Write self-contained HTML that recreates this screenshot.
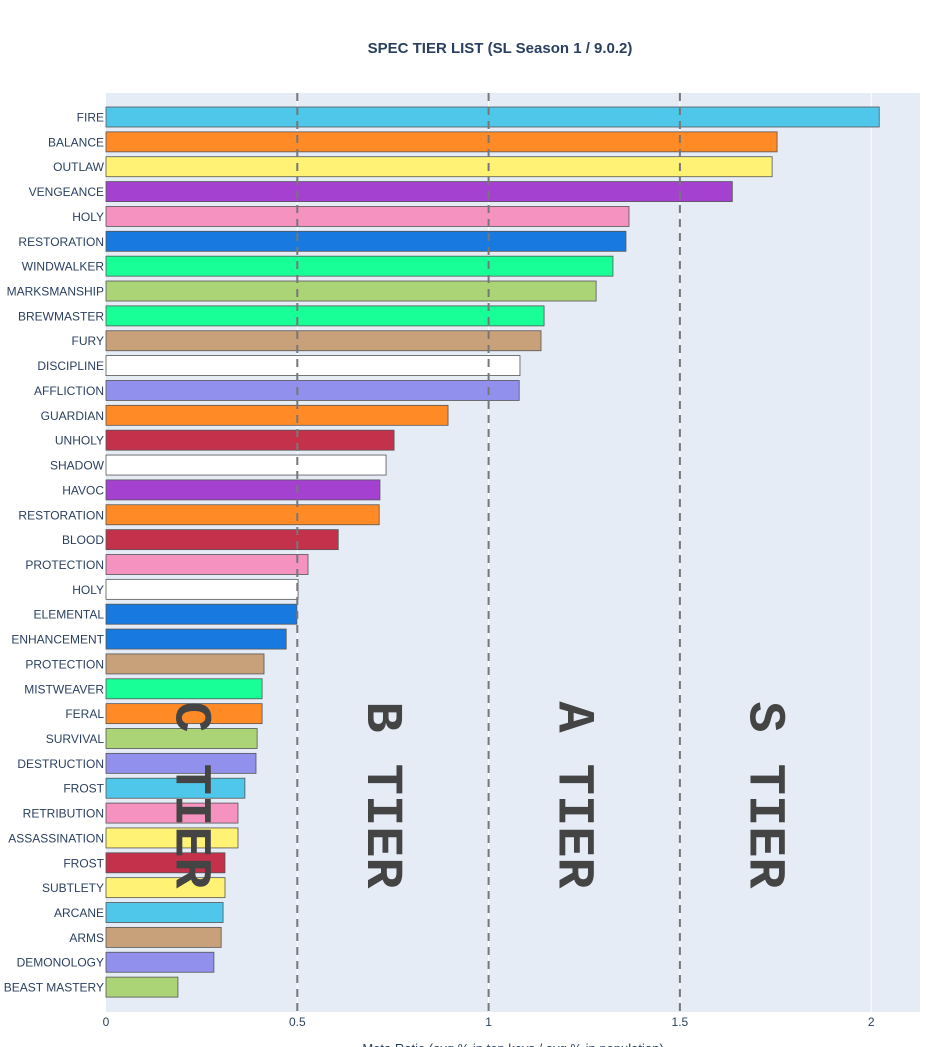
<!DOCTYPE html>
<html><head><meta charset="utf-8"><style>
body{margin:0;background:#fff;}
svg{display:block;font-family:"Liberation Sans",sans-serif;}
</style></head><body>
<svg id="chart" width="926" height="1047">
<text x="500" y="53" text-anchor="middle" font-size="15" font-weight="bold" fill="#2a3f5f">SPEC TIER LIST (SL Season 1 / 9.0.2)</text>
<rect x="106" y="93" width="814" height="919" fill="#e5ecf6"/>
<g id="grid"></g><g id="bars"></g><g id="tiers"></g><g id="labels"></g>
<text x="513" y="1053" text-anchor="middle" font-size="13" fill="#2a3f5f">Meta Ratio (avg % in top keys / avg % in population)</text>
</svg>
<script>
const specs=["FIRE","BALANCE","OUTLAW","VENGEANCE","HOLY","RESTORATION","WINDWALKER","MARKSMANSHIP","BREWMASTER","FURY","DISCIPLINE","AFFLICTION","GUARDIAN","UNHOLY","SHADOW","HAVOC","RESTORATION","BLOOD","PROTECTION","HOLY","ELEMENTAL","ENHANCEMENT","PROTECTION","MISTWEAVER","FERAL","SURVIVAL","DESTRUCTION","FROST","RETRIBUTION","ASSASSINATION","FROST","SUBTLETY","ARCANE","ARMS","DEMONOLOGY","BEAST MASTERY"];
const values=[2.021,1.754,1.741,1.637,1.367,1.359,1.325,1.281,1.145,1.137,1.082,1.080,0.894,0.753,0.732,0.716,0.714,0.607,0.528,0.502,0.499,0.471,0.413,0.408,0.408,0.395,0.392,0.363,0.345,0.345,0.311,0.311,0.306,0.301,0.282,0.188];
const colors=["#4fc7ea","#ff8a26","#fff275","#a441d0","#f592c0","#187ae0","#19ff98","#abd477","#19ff98","#c8a07a","#ffffff","#9190ec","#ff8a26","#c4314b","#ffffff","#a441d0","#ff8a26","#c4314b","#f592c0","#ffffff","#187ae0","#187ae0","#c8a07a","#19ff98","#ff8a26","#abd477","#9190ec","#4fc7ea","#f592c0","#fff275","#c4314b","#fff275","#4fc7ea","#c8a07a","#9190ec","#abd477"];
const xTicks=[0,0.5,1,1.5,2];
const xTickLabels=["0","0.5","1","1.5","2"];
const tierLines=[0.5,1,1.5];
const tierNames=["C TIER","B TIER","A TIER","S TIER"];
const tierPos=[0.22,0.72,1.22,1.72];
const NS="http://www.w3.org/2000/svg";
const x=v=>106+v*382.6;
const y=i=>117+i*24.86;
function mk(t,a,p){const e=document.createElementNS(NS,t);for(const k in a)e.setAttribute(k,a[k]);p.appendChild(e);return e;}
const g=document.getElementById('grid'),b=document.getElementById('bars'),tg=document.getElementById('tiers'),lg=document.getElementById('labels');
xTicks.forEach((v,i)=>{
  const t=mk('text',{x:x(v),y:1026,'text-anchor':'middle','font-size':12,fill:'#2a3f5f'},lg);t.textContent=xTickLabels[i];
  
  
  if(v>0){const l=mk('line',{x1:x(v),x2:x(v),y1:93,y2:1012,stroke:'#fff','stroke-width':1},g);
  
  }
});
specs.forEach((s,i)=>{
  const r=mk('rect',{x:106,y:y(i)-10,width:x(values[i])-106,height:20,fill:colors[i],stroke:'#555','stroke-width':0.8},b);
  
  
  const t=mk('text',{x:104,y:y(i)+4.5,'text-anchor':'end','font-size':12,fill:'#2a3f5f'},lg);t.textContent=s;
  
  
});
tierLines.forEach(v=>{
  const l=mk('line',{x1:x(v),x2:x(v),y1:93,y2:1012,stroke:'#777','stroke-width':2,'stroke-dasharray':'8,6'},tg);
  
  
});
tierNames.forEach((n,i)=>{
  const cx=x(tierPos[i]),cy=795;
  const t=mk('text',{x:cx,y:cy,'text-anchor':'middle','dominant-baseline':'central','font-family':'Liberation Mono, monospace','font-size':52,'font-weight':'bold',fill:'#444',transform:`rotate(90 ${cx} ${cy})`},tg);
  t.textContent=n;
  
  
});
</script>
</body></html>
